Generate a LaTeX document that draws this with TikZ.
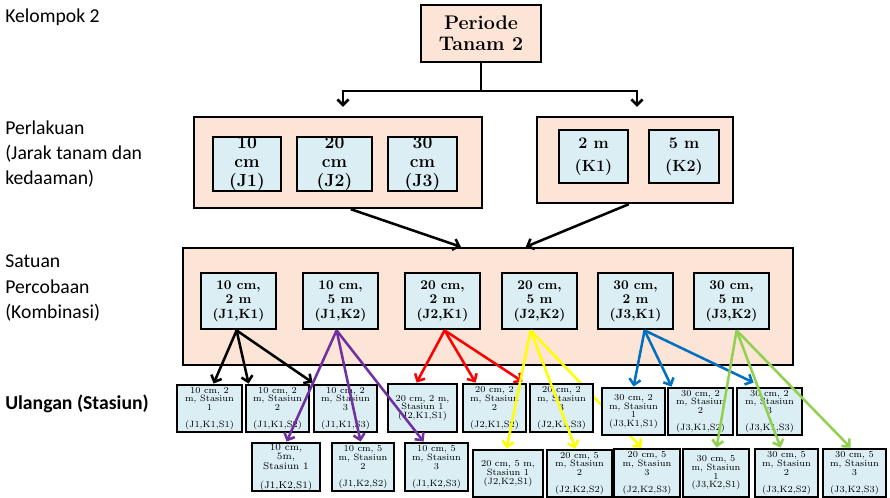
\documentclass[tikz,border=0pt]{standalone}
\usepackage{fontspec}
\newfontfamily\labelfont{Carlito}
\usetikzlibrary{arrows.meta,calc}
\definecolor{peach}{HTML}{FCE4D6}
\definecolor{pale}{HTML}{DAEEF3}
\definecolor{cpurple}{HTML}{7030A0}
\definecolor{cred}{HTML}{FF0000}
\definecolor{cyellow}{HTML}{FFFF00}
\definecolor{cblue}{HTML}{0070C0}
\definecolor{cgreen}{HTML}{92D050}
\newcommand\pxu{0.025cm}
% box given by its corners (x1,y1) (x2,y2) in pixel units
\newcommand\boxat[7]{\node[#1, minimum width={(#5-#3)*\pxu}, minimum height={(#6-#4)*\pxu}] (#2) at ({(#3+#5)/2},{(#4+#6)/2}) {#7};}
\begin{document}
\begin{tikzpicture}[x=0.025cm, y=-0.025cm,
  outerbox/.style={draw=black, fill=peach, line width=1.7pt, inner sep=0pt, align=center},
  innerbox/.style={draw=black, fill=pale, line width=2pt, inner sep=0pt, align=center},
  jtext/.style={font=\fontsize{12.5}{13.5}\selectfont\bfseries},
  ktext/.style={font=\fontsize{11.5}{16}\selectfont\bfseries},
  ctext/.style={font=\fontsize{9.5}{10.3}\selectfont\bfseries},
  stext/.style={font=\fontsize{6.5}{6.2}\selectfont},
  sbig/.style={font=\fontsize{7}{7}\selectfont},
  label/.style={anchor=west, align=left, inner sep=0pt, font=\labelfont\fontsize{14}{17.8}\selectfont},
  link/.style={line width=1.8pt, -{Straight Barb[length=4pt,width=8pt]}},
  plain/.style={line width=1.6pt},
]
\fill[white] (0,0) rectangle (890,498);
\useasboundingbox (0,0) rectangle (890,498);

% row labels
\node[label] (lk) at (5,17) {Kelompok 2};
\node[label] (lp) at (5,154) {Perlakuan\\(Jarak tanam dan\\kedaaman)};
\node[label] (ls) at (5,288) {Satuan\\Percobaan\\(Kombinasi)};
\node[label, font=\labelfont\fontsize{14}{17.8}\selectfont\bfseries] (lu) at (5,404) {Ulangan (Stasiun)};

% top level
\boxat{outerbox, font=\fontsize{14}{15}\selectfont\bfseries}{periode}{421}{5}{541}{62}{Periode\\Tanam 2}

% treatments
\boxat{outerbox}{pl}{194}{117}{482}{208}{}
\boxat{outerbox}{pr}{537}{117}{733}{203}{}
\boxat{innerbox, jtext}{j1}{213}{137}{281}{191}{10\\cm\\(J1)}
\boxat{innerbox, jtext}{j2}{297}{137}{372}{191}{20\\cm\\(J2)}
\boxat{innerbox, jtext}{j3}{388}{137}{457}{191}{30\\cm\\(J3)}
\boxat{innerbox, ktext}{k1}{559}{130}{628}{183}{2 m\\(K1)}
\boxat{innerbox, ktext}{k2}{649}{130}{719}{183}{5 m\\(K2)}

\draw[plain] (periode.south) -- ++(0,28) coordinate (split);
\draw[link] (split) -| ($(pl.north)+(5,-9)$);
\draw[link] (split) -| ($(pr.north)+(2,-9)$);

% combinations
\boxat{outerbox}{sat}{183}{248}{793}{365}{}
\draw[link] ($(pl.south west)+(158,0)$) -- ($(sat.north west)+(279,0)$);
\draw[link] ($(pr.south west)+(93,0)$) -- ($(sat.north west)+(344,0)$);
\boxat{innerbox, ctext}{c11}{201}{273}{276}{329}{10 cm,\\2 m\\(J1,K1)}
\boxat{innerbox, ctext}{c12}{303}{273}{378}{329}{10 cm,\\5 m\\(J1,K2)}
\boxat{innerbox, ctext}{c21}{405}{273}{480}{329}{20 cm,\\2 m\\(J2,K1)}
\boxat{innerbox, ctext}{c22}{502}{273}{577}{329}{20 cm,\\5 m\\(J2,K2)}
\boxat{innerbox, ctext}{c31}{598}{273}{673}{329}{30 cm,\\2 m\\(J3,K1)}
\boxat{innerbox, ctext}{c32}{694}{273}{769}{329}{30 cm,\\5 m\\(J3,K2)}

% replicates, lower row
\boxat{innerbox, sbig}{s121}{252}{443}{320}{491}{10 cm,\\5m,\\Stasiun 1\\[6pt](J1,K2,S1)}
\boxat{innerbox, stext}{s122}{332}{443}{394}{491}{10 cm, 5\\m, Stasiun\\2\\[6pt](J1,K2,S2)}
\boxat{innerbox, stext}{s123}{405}{443}{468}{491}{10 cm, 5\\m, Stasiun\\3\\[6pt](J1,K2,S3)}
\boxat{innerbox, stext}{s221}{473}{450}{543}{497}{20 cm, 5 m,\\Stasiun 1\\(J2,K2,S1)}
\boxat{innerbox, stext}{s222}{547}{450}{612}{497}{20 cm, 5\\m, Stasiun\\2\\[6pt](J2,K2,S2)}
\boxat{innerbox, stext}{s223}{614}{449}{680}{497}{20 cm, 5\\m, Stasiun\\3\\[6pt](J2,K2,S3)}
\boxat{innerbox, stext}{s321}{683}{449}{749}{497}{30 cm, 5\\m, Stasiun\\1\\(J3,K2,S1)}
\boxat{innerbox, stext}{s322}{755}{449}{818}{497}{30 cm, 5\\m, Stasiun\\2\\[6pt](J3,K2,S2)}
\boxat{innerbox, stext}{s323}{823}{449}{886}{497}{30 cm, 5\\m, Stasiun\\3\\[6pt](J3,K2,S3)}

% this connector runs behind the (J3,K1,S1) box
\draw[link, cyellow] ($(c22.south west)+(30,0)$) -- ($(s223.north west)+(29,0)$);

% replicates, upper row
\boxat{innerbox, stext}{s111}{177}{385}{242}{432}{10 cm, 2\\m, Stasiun\\1\\[6pt](J1,K1,S1)}
\boxat{innerbox, stext}{s112}{246}{385}{309}{432}{10 cm, 2\\m, Stasiun\\2\\[6pt](J1,K1,S2)}
\boxat{innerbox, stext}{s113}{314}{385}{377}{432}{10 cm, 2\\m, Stasiun\\3\\[6pt](J1,K1,S3)}
\boxat{innerbox, stext}{s211}{388}{384}{457}{432}{20 cm, 2 m,\\Stasiun 1\\(J2,K1,S1)}
\boxat{innerbox, stext}{s212}{463}{384}{526}{432}{20 cm, 2\\m, Stasiun\\2\\[6pt](J2,K1,S2)}
\boxat{innerbox, stext}{s213}{530}{384}{593}{432}{20 cm, 2\\m, Stasiun\\3\\[6pt](J2,K1,S3)}
\boxat{innerbox, stext}{s311}{602}{388}{665}{435}{30 cm, 2\\m, Stasiun\\1\\(J3,K1,S1)}
\boxat{innerbox, stext}{s312}{668}{388}{733}{435}{30 cm, 2\\m, Stasiun\\2\\[6pt](J3,K1,S2)}
\boxat{innerbox, stext}{s313}{737}{388}{802}{435}{30 cm, 2\\m, Stasiun\\3\\[6pt](J3,K1,S3)}

% combination -> replicate connectors
\draw[link] ($(c11.south west)+(37,0)$) -- ($(s111.north west)+(38,0)$);
\draw[link] ($(c11.south west)+(37,0)$) -- ($(s112.north west)+(4,0)$);
\draw[link] ($(c11.south west)+(37,0)$) -- ($(s113.north west)+(0,-1)$);

\draw[link, cpurple] ($(c12.south west)+(35,0)$) -- ($(s121.north west)+(36,0)$);
\draw[link, cpurple] ($(c12.south west)+(35,0)$) -- ($(s122.north west)+(30,0)$);
\draw[link, cpurple] ($(c12.south west)+(35,0)$) -- ($(s123.north west)+(20,0)$);

\draw[link, cred] ($(c21.south west)+(41,0)$) -- ($(s211.north west)+(30,0)$);
\draw[link, cred] ($(c21.south west)+(41,0)$) -- ($(s212.north west)+(14,0)$);
\draw[link, cred] ($(c21.south west)+(41,0)$) -- ($(s213.north west)+(-6,-1)$);

\draw[link, cyellow] ($(c22.south west)+(30,0)$) -- ($(s221.north west)+(35,0)$);
\draw[link, cyellow] ($(c22.south west)+(30,0)$) -- ($(s222.north west)+(30,0)$);

\draw[link, cblue] ($(c31.south west)+(48,0)$) -- ($(s311.north west)+(33,0)$);
\draw[link, cblue] ($(c31.south west)+(48,0)$) -- ($(s312.north west)+(5,0)$);
\draw[link, cblue] ($(c31.south west)+(48,0)$) -- ($(s313.north west)+(18,-4)$);

\draw[link, cgreen] ($(c32.south west)+(44,0)$) -- ($(s321.north west)+(35,0)$);
\draw[link, cgreen] ($(c32.south west)+(44,0)$) -- ($(s322.north west)+(27,0)$);
\draw[link, cgreen] ($(c32.south west)+(44,0)$) -- ($(s323.north west)+(29,0)$);
\end{tikzpicture}
\end{document}
